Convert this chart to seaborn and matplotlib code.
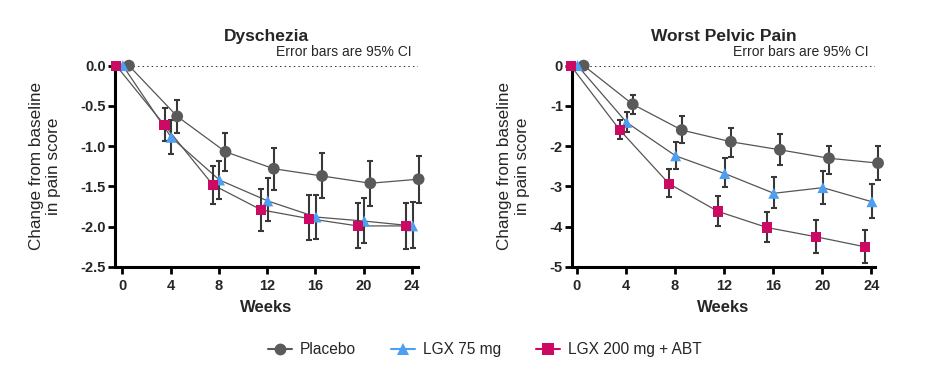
import matplotlib
matplotlib.use("Agg")
import matplotlib.pyplot as plt
import seaborn as sns
import pandas as pd
import numpy as np
from matplotlib.lines import Line2D

# style
sns.set_style("ticks")
plt.rcParams['font.family'] = ['Liberation Sans', 'DejaVu Sans']
plt.rcParams['axes.unicode_minus'] = False

# data (means and 95% CI bounds)
weeks = [0, 4, 8, 12, 16, 20, 24]
groups = ['Placebo', 'LGX 75 mg', 'LGX 200 mg + ABT']

dys_placebo = [0, -0.63, -1.07, -1.28, -1.37, -1.46, -1.41]
dys_placebo_lo = [0, -0.84, -1.31, -1.54, -1.64, -1.74, -1.71]
dys_placebo_hi = [0, -0.43, -0.84, -1.02, -1.09, -1.19, -1.12]
dys_lgx75 = [0, -0.89, -1.42, -1.68, -1.88, -1.93, -1.99]
dys_lgx75_lo = [0, -1.10, -1.66, -1.93, -2.15, -2.20, -2.27]
dys_lgx75_hi = [0, -0.68, -1.18, -1.40, -1.60, -1.64, -1.69]
dys_lgx200 = [0, -0.74, -1.48, -1.79, -1.90, -1.99, -1.99]
dys_lgx200_lo = [0, -0.93, -1.72, -2.05, -2.17, -2.27, -2.28]
dys_lgx200_hi = [0, -0.53, -1.24, -1.53, -1.61, -1.70, -1.70]

wpp_placebo = [0, -0.96, -1.60, -1.89, -2.09, -2.30, -2.42]
wpp_placebo_lo = [0, -1.21, -1.92, -2.27, -2.47, -2.70, -2.83]
wpp_placebo_hi = [0, -0.73, -1.26, -1.54, -1.69, -2.00, -2.00]
wpp_lgx75 = [0, -1.41, -2.24, -2.68, -3.17, -3.03, -3.38]
wpp_lgx75_lo = [0, -1.64, -2.57, -3.02, -3.54, -3.43, -3.78]
wpp_lgx75_hi = [0, -1.16, -1.89, -2.29, -2.77, -2.62, -2.94]
wpp_lgx200 = [0, -1.60, -2.93, -3.62, -4.02, -4.25, -4.50]
wpp_lgx200_lo = [0, -1.82, -3.26, -3.98, -4.39, -4.64, -4.90]
wpp_lgx200_hi = [0, -1.35, -2.57, -3.24, -3.63, -3.83, -4.09]

dys_yticks = [0, -0.5, -1.0, -1.5, -2.0, -2.5]
dys_yticklabels = ['0.0', '-0.5', '-1.0', '-1.5', '-2.0', '-2.5']
wpp_yticks = [0, -1, -2, -3, -4, -5]
wpp_yticklabels = ['0', '-1', '-2', '-3', '-4', '-5']


def make_df(series):
    rows = []
    for g, (m, lo, hi) in zip(groups, series):
        for w, a, b, c in zip(weeks, m, lo, hi):
            rows.append({'week': w, 'group': g, 'mean': a, 'lo': b, 'hi': c})
    return pd.DataFrame(rows)


df_dys = make_df([(dys_placebo, dys_placebo_lo, dys_placebo_hi),
                  (dys_lgx75, dys_lgx75_lo, dys_lgx75_hi),
                  (dys_lgx200, dys_lgx200_lo, dys_lgx200_hi)])
df_wpp = make_df([(wpp_placebo, wpp_placebo_lo, wpp_placebo_hi),
                  (wpp_lgx75, wpp_lgx75_lo, wpp_lgx75_hi),
                  (wpp_lgx200, wpp_lgx200_lo, wpp_lgx200_hi)])

palette = {'Placebo': '#5a5a5a', 'LGX 75 mg': '#4d9ff2', 'LGX 200 mg + ABT': '#cc0a64'}
markers = {'Placebo': 'o', 'LGX 75 mg': '^', 'LGX 200 mg + ABT': 's'}
sizes = {'Placebo': 72, 'LGX 75 mg': 62, 'LGX 200 mg + ABT': 54}
offsets = {'Placebo': 0.55, 'LGX 75 mg': 0.05, 'LGX 200 mg + ABT': -0.5}

fig = plt.figure(figsize=(9.36, 3.75), dpi=100)
ax1 = fig.add_axes([0.1229, 0.288, 0.3237, 0.537])
ax2 = fig.add_axes([0.6111, 0.288, 0.3237, 0.537])

panels = [
    (ax1, df_dys, 'Dyschezia', (-2.5, 0), dys_yticks, dys_yticklabels, (-0.6, 24.5), -0.178),
    (ax2, df_wpp, 'Worst Pelvic Pain', (-5, 0), wpp_yticks, wpp_yticklabels, (-0.4, 24.3), -0.14),
]

for ax, d, title, ylim, yt, ytl, xlim, ylab_x in panels:
    d = d.copy()
    d['x'] = d['week'] + d['group'].map(offsets)

    ax.axhline(0, color='black', ls=(0, (1, 2)), lw=1.1, zorder=0.5)

    # connecting lines (gray for every group)
    sns.lineplot(data=d, x='x', y='mean', units='group', estimator=None,
                 color='#555555', lw=0.9, ax=ax, zorder=1.5, sort=True, clip_on=False)

    # error bars
    for g in groups:
        s = d[(d['group'] == g) & (d['week'] > 0)]
        yerr = np.vstack([s['mean'] - s['lo'], s['hi'] - s['mean']])
        eb = ax.errorbar(s['x'], s['mean'], yerr=yerr, fmt='none', ecolor='#383838',
                         elinewidth=1.5, capsize=2.3, capthick=1.5, zorder=2)
        for art in eb.lines[1] + eb.lines[2]:
            art.set_clip_on(False)

    # markers
    sns.scatterplot(data=d, x='x', y='mean', hue='group', style='group', size='group',
                    palette=palette, markers=markers, sizes=sizes, hue_order=groups,
                    linewidth=0, legend=False, ax=ax, zorder=4, clip_on=False)

    ax.set_xlim(*xlim)
    ax.set_ylim(*ylim)
    ax.set_xticks(weeks)
    ax.set_xticklabels([str(w) for w in weeks], fontsize=10.5, fontweight='bold')
    ax.set_yticks(yt)
    ax.set_yticklabels(ytl, fontsize=10.5, fontweight='bold')
    ax.tick_params(axis='both', width=2, length=5, color='black')
    ax.tick_params(axis='y', pad=1.5)
    ax.tick_params(axis='x', pad=4)

    ax.set_xlabel('Weeks', fontsize=12, fontweight='bold', labelpad=5)
    ax.set_ylabel('Change from baseline\nin pain score', fontsize=12.3)
    ax.yaxis.set_label_coords(ylab_x, 0.5)
    ax.set_title(title, fontsize=12.5, fontweight='bold', pad=18)
    ax.text(0.98, 1.047, 'Error bars are 95% CI', transform=ax.transAxes,
            ha='right', va='baseline', fontsize=10)

    sns.despine(ax=ax)
    for sp in ['left', 'bottom']:
        ax.spines[sp].set_linewidth(2.2)
        ax.spines[sp].set_color('black')

# shared legend
handles = [Line2D([0], [0], color=palette[g], marker=markers[g], lw=1.5,
                  markersize=8.5, markeredgewidth=0) for g in groups]
fig.legend(handles, groups, loc='center', bbox_to_anchor=(0.518, 0.067), ncol=3,
           frameon=False, fontsize=11.2, handlelength=1.5, handletextpad=0.5,
           columnspacing=2.3)

fig.savefig('out.png', dpi=100)
